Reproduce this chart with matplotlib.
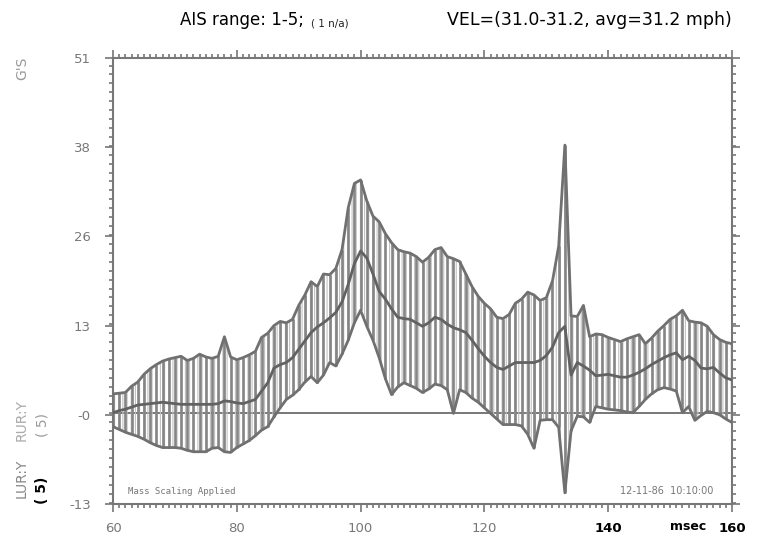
import numpy as np
import matplotlib
matplotlib.use("Agg")
import matplotlib.pyplot as plt
from matplotlib.ticker import FixedLocator, MultipleLocator

# Time base (msec) and the three acceleration traces (G's)
time_ms = list(range(60, 161))

upper_g = [
    2.8, 2.9, 3.0, 3.9, 4.5, 5.6, 6.4, 7.0, 7.5, 7.8,
    8.0, 8.2, 7.6, 7.9, 8.5, 8.1, 7.9, 8.2, 11.0, 8.1,
    7.7, 8.0, 8.4, 8.9, 10.9, 11.5, 12.6, 13.2, 13.0, 13.5,
    15.5, 17.0, 18.9, 18.2, 20.0, 19.9, 20.8, 23.5, 29.5, 33.0,
    33.5, 30.5, 28.3, 27.5, 25.8, 24.5, 23.5, 23.2, 23.0, 22.5,
    21.7, 22.4, 23.5, 23.8, 22.5, 22.2, 21.8, 20.0, 18.2, 16.8,
    15.8, 15.0, 13.8, 13.6, 14.2, 15.8, 16.4, 17.4, 17.0, 16.2,
    16.6, 19.0, 24.0, 38.5, 14.0, 13.9, 15.5, 11.0, 11.4, 11.3,
    10.9, 10.6, 10.3, 10.7, 11.0, 11.3, 10.0, 10.8, 11.8, 12.6,
    13.5, 14.0, 14.8, 13.3, 13.1, 13.0, 12.5, 11.3, 10.6, 10.2,
    10.0,
]

mean_g = [
    0.1, 0.4, 0.6, 0.9, 1.2, 1.3, 1.4, 1.5, 1.6, 1.5,
    1.4, 1.3, 1.3, 1.3, 1.3, 1.3, 1.3, 1.4, 1.8, 1.7,
    1.5, 1.4, 1.7, 2.0, 3.2, 4.4, 6.5, 7.0, 7.3, 8.0,
    9.2, 10.4, 11.6, 12.4, 13.0, 13.7, 14.5, 16.0, 18.5, 21.5,
    23.3, 22.3, 20.0, 17.5, 16.4, 15.0, 13.8, 13.6, 13.5, 13.0,
    12.5, 13.0, 13.8, 13.5, 12.8, 12.3, 12.0, 11.6, 10.5, 9.3,
    8.2, 7.3, 6.6, 6.3, 6.8, 7.3, 7.3, 7.3, 7.3, 7.6,
    8.3, 9.5, 11.6, 12.5, 5.5, 7.3, 6.8, 6.2, 5.4, 5.5,
    5.6, 5.4, 5.2, 5.2, 5.5, 5.9, 6.4, 7.0, 7.5, 8.0,
    8.4, 8.7, 7.7, 8.2, 7.6, 6.5, 6.4, 6.6, 5.8, 5.1,
    4.8,
]

lower_g = [
    -1.9, -2.3, -2.7, -3.0, -3.3, -3.7, -4.2, -4.6, -4.9, -4.9,
    -4.9, -5.0, -5.3, -5.5, -5.5, -5.5, -5.0, -4.9, -5.5, -5.6,
    -4.9, -4.4, -3.9, -3.2, -2.4, -1.9, -0.5, 0.8, 2.0, 2.6,
    3.4, 4.5, 5.3, 4.4, 5.5, 7.3, 6.8, 8.5, 10.5, 13.0,
    14.8, 12.5, 10.5, 8.0, 5.0, 2.7, 3.8, 4.4, 4.0, 3.6,
    3.0, 3.5, 4.2, 4.0, 3.4, 0.0, 3.4, 3.0, 2.2, 1.6,
    0.8, 0.0, -0.8, -1.6, -1.6, -1.6, -1.8, -3.0, -5.0, -1.0,
    -0.9, -0.9, -2.0, -11.4, -2.5, -0.4, -0.5, -1.3, 1.0, 0.8,
    0.6, 0.5, 0.4, 0.2, 0.1, 1.0, 2.0, 2.8, 3.4, 3.7,
    3.5, 3.2, 0.1, 1.0, -1.0, -0.3, 0.3, 0.1, -0.2, -0.8,
    -1.3,
]

y_tick_values = [-13, -0.2, 12.6, 25.4, 38.2, 51]
y_tick_labels = ["-13", "-0", "13", "26", "38", "51"]
x_label_values = [60, 80, 100, 120, 140, 160]

GRAY = "#777777"
LIGHT = "#c2c2c2"

plt.rcParams["hatch.linewidth"] = 0.8
plt.rcParams["hatch.color"] = LIGHT

W, H = 759, 539
fig = plt.figure(figsize=(W / 100, H / 100), dpi=100)
ax = fig.add_axes([113 / W, 1 - 504 / H, (732 - 113) / W, (504 - 58) / H])

t = np.array(time_ms, dtype=float)
up = np.array(upper_g)
mn = np.array(mean_g)
lo = np.array(lower_g)

# zero reference line
ax.axhline(0, color=GRAY, lw=1.4, zorder=1)

# light stippled hatching and darker sample bars between the envelopes
ax.fill_between(t, lo, up, facecolor="none", edgecolor=LIGHT, hatch="||||",
                linewidth=0, zorder=1)
ax.vlines(t, lo, up, color="#858585", lw=1.9, zorder=2)

# envelopes and mean
ax.plot(t, up, color="#707070", lw=2.0, zorder=3)
ax.plot(t, lo, color="#707070", lw=2.0, zorder=3)
ax.plot(t, mn, color="#626262", lw=2.0, zorder=3)

ax.set_xlim(60, 160)
ax.set_ylim(-13, 51)

for s in ax.spines.values():
    s.set_color(GRAY)
    s.set_linewidth(1.5)

ax.yaxis.set_major_locator(FixedLocator(y_tick_values))
ax.set_yticklabels(y_tick_labels)
ax.yaxis.set_minor_locator(MultipleLocator(1.28))
ax.xaxis.set_major_locator(FixedLocator(x_label_values))
ax.set_xticklabels([str(v) for v in x_label_values])
ax.xaxis.set_minor_locator(MultipleLocator(1))

ax.tick_params(which="both", direction="out", color=GRAY, width=1.2,
               top=True, right=True, labelcolor=GRAY)
ax.tick_params(which="major", length=6, labelsize=9.5)
ax.tick_params(which="minor", length=3)
ax.tick_params(axis="x", pad=7)
ax.tick_params(axis="y", pad=10)

for lbl in ax.get_xticklabels():
    if lbl.get_text() in ("140", "160"):
        lbl.set_color("black")
        lbl.set_fontweight("bold")

# header annotations
ais = fig.text(180 / W, 1 - 25 / H, "AIS range: 1-5;", fontsize=12,
               family="DejaVu Sans", color="black", va="baseline", ha="left")
ax.annotate("( 1 n/a)", xy=(1, 0), xycoords=ais, xytext=(5, 0),
            textcoords="offset points", fontsize=7.5, color="#222222",
            va="bottom", ha="left", annotation_clip=False)
fig.text(732 / W, 1 - 25 / H, "VEL=(31.0-31.2, avg=31.2 mph)", fontsize=12.5,
         family="DejaVu Sans", color="black", va="baseline", ha="right")

fig.text(688 / W, 1 - 527 / H, "msec", fontsize=9, fontweight="bold",
         color="black", va="center", ha="center")

# y-axis captions
fig.text(22 / W, 1 - 68 / H, "G'S", rotation=90, fontsize=10, color="#999999",
         va="center", ha="center")
fig.text(22 / W, 1 - 478 / H, "LUR:Y", rotation=90, fontsize=10,
         color="#888888", va="center", ha="center")
fig.text(22 / W, 1 - 420 / H, "RUR:Y", rotation=90, fontsize=10,
         color="#aaaaaa", va="center", ha="center")
fig.text(42 / W, 1 - 490 / H, "( 5)", rotation=90, fontsize=10,
         fontweight="bold", color="black", va="center", ha="center")
fig.text(42 / W, 1 - 425 / H, "( 5)", rotation=90, fontsize=10,
         color="#999999", va="center", ha="center")

# footer notes inside the frame
ax.text(128 / W, 1 - 491 / H, "Mass Scaling Applied", transform=fig.transFigure,
        fontsize=6.5, color="#777777", va="center", ha="left",
        family="DejaVu Sans Mono")
ax.text(713 / W, 1 - 491 / H, "12-11-86  10:10:00", transform=fig.transFigure,
        fontsize=7, color="#777777", va="center", ha="right",
        family="DejaVu Sans")

fig.savefig("out.png", dpi=100, facecolor="white")
